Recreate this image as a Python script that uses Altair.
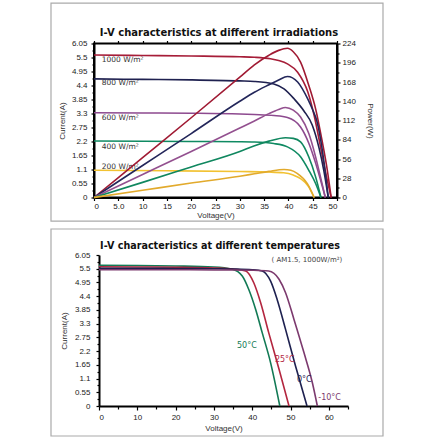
import altair as alt
import pandas as pd

# ---------------- top panel: I-V / P-V at different irradiations ----------------
irr_names = ["1000", "800", "600", "400", "200"]
irr_label_text = ["1000 W/m²", "800 W/m²", "600 W/m²", "400 W/m²", "200 W/m²"]
irr_label_v = [1.6, 1.6, 1.6, 1.6, 1.6]
irr_label_i = [5.41, 4.49, 3.14, 1.99, 1.2]

iv_1000_v = [0, 10, 20, 30, 33, 36.3, 38, 39.8, 41.9, 44, 45.3, 46.5, 47.7, 48.8]
iv_1000_i = [5.6, 5.58, 5.56, 5.53, 5.51, 5.45, 5.38, 5.25, 4.92, 4.14, 3.22, 2.1, 0.95, 0]
iv_800_v = [0, 10, 20, 30, 33, 37, 39.1, 41.2, 43.2, 44.9, 46.3, 47.3, 48.2]
iv_800_i = [4.66, 4.64, 4.62, 4.58, 4.56, 4.46, 4.27, 3.87, 3.4, 2.85, 1.95, 1.05, 0]
iv_600_v = [0, 10, 20, 30, 33, 37, 39.8, 42.5, 44.2, 45.6, 47, 47.6]
iv_600_i = [3.33, 3.32, 3.31, 3.28, 3.26, 3.22, 3.14, 2.77, 2.13, 1.35, 0.42, 0]
iv_400_v = [0, 10, 20, 30, 33, 37, 39.8, 42.5, 44.2, 45.6, 46.7]
iv_400_i = [2.22, 2.21, 2.2, 2.19, 2.18, 2.12, 1.99, 1.6, 1.07, 0.55, 0]
iv_200_v = [0, 15, 30, 36, 39, 41, 42.5, 44.2, 45.3]
iv_200_i = [1.07, 1.05, 1.02, 1.0, 0.97, 0.88, 0.74, 0.42, 0]

pw_1000_v = [0, 10, 20, 30, 33, 36, 38, 39.8, 41, 42.5, 44.2, 45.6, 47, 48, 48.8]
pw_1000_p = [0, 58, 116, 175, 193, 207, 214, 217, 212, 197, 163, 129, 80, 40, 0]
pw_800_v = [0, 10, 20, 30, 33, 36, 38, 39.8, 41.9, 44, 44.9, 45.9, 47, 48.2]
pw_800_p = [0, 46.5, 93, 140, 153, 164, 171, 176, 168, 143, 129, 110, 68, 0]
pw_600_v = [0, 10, 20, 30, 32.9, 36, 38, 39.4, 41, 42.5, 44.2, 45.6, 46.6, 47.6]
pw_600_p = [0, 33.5, 67, 101, 111, 122, 128, 131, 127, 117, 93, 59, 30, 0]
pw_400_v = [0, 10, 20, 30, 32.9, 36, 39.4, 41, 42.5, 44.2, 45.6, 46.7]
pw_400_p = [0, 22, 44.5, 67, 75, 82, 87, 86, 81, 59, 30, 0]
pw_200_v = [0, 10, 20, 30, 33, 36, 39.1, 40.5, 41.8, 43.9, 45.3]
pw_200_p = [0, 10.5, 21, 31, 34.5, 38, 40.7, 39.5, 35, 20, 0]

iv_colors = ["#a61d38", "#1f2150", "#8d4a8f", "#0f8a62", "#f2c232"]
pw_colors = ["#a01a33", "#23265a", "#93508f", "#10875f", "#e2aa2c"]

cur_ticks = [0, 0.55, 1.1, 1.65, 2.2, 2.75, 3.3, 3.85, 4.4, 4.95, 5.5, 6.05]
cur_minor = [0.275, 0.825, 1.375, 1.925, 2.475, 3.025, 3.575, 4.125, 4.675, 5.225, 5.775]
pow_ticks = [0, 28, 56, 84, 112, 140, 168, 196, 224]
pow_minor = [14, 42, 70, 98, 126, 154, 182, 210]
volt_ticks_top = [0, 5, 10, 15, 20, 25, 30, 35, 40, 45, 50]

# ---------------- bottom panel: temperatures ----------------
temp_names = ["50°C", "25°C", "0°C", "-10°C"]
temp_label_v = [38.6, 48.5, 53.6, 60.2]
temp_label_i = [2.4, 1.83, 1.04, 0.33]
temp_colors = ["#127a55", "#b3263f", "#1e2150", "#7c3a6e"]

t50_v = [0, 10, 20, 30, 34.8, 37.4, 39.1, 40.9, 42.6, 44.8, 47.2]
t50_i = [5.64, 5.63, 5.61, 5.57, 5.48, 5.21, 4.67, 3.87, 2.94, 1.73, 0]
t25_v = [0, 10, 20, 30, 35, 38.3, 40.4, 42.2, 44.3, 47, 49.6]
t25_i = [5.58, 5.57, 5.56, 5.53, 5.49, 5.41, 4.94, 4.14, 2.94, 1.47, 0]
t0_v = [0, 10, 20, 30, 35, 40, 42.6, 44.8, 46.5, 48.7, 51.3, 54.3]
t0_i = [5.52, 5.52, 5.51, 5.5, 5.49, 5.46, 5.41, 5.0, 4.27, 3.07, 1.6, 0]
tm10_v = [0, 10, 20, 30, 35, 40, 44.3, 47, 48.7, 50.9, 53.5, 55.7, 57]
tm10_i = [5.46, 5.46, 5.46, 5.45, 5.45, 5.44, 5.41, 5.08, 4.54, 3.47, 2.14, 0.93, 0]

volt_ticks_bot = [0, 5, 10, 15, 20, 25, 30, 35, 40, 45, 50, 55, 60, 65]

# ---------------- build tables ----------------
def frame(name, xs, ys, yname):
    return pd.DataFrame({"s": name, "v": xs, yname: ys})

df_iv = pd.concat([
    frame("1000", iv_1000_v, iv_1000_i, "i"),
    frame("800", iv_800_v, iv_800_i, "i"),
    frame("600", iv_600_v, iv_600_i, "i"),
    frame("400", iv_400_v, iv_400_i, "i"),
    frame("200", iv_200_v, iv_200_i, "i"),
])
df_pw = pd.concat([
    frame("1000", pw_1000_v, pw_1000_p, "p"),
    frame("800", pw_800_v, pw_800_p, "p"),
    frame("600", pw_600_v, pw_600_p, "p"),
    frame("400", pw_400_v, pw_400_p, "p"),
    frame("200", pw_200_v, pw_200_p, "p"),
])
df_irr_lab = pd.DataFrame({"t": irr_label_text, "v": irr_label_v, "i": irr_label_i})
df_t = pd.concat([
    frame("50°C", t50_v, t50_i, "i"),
    frame("25°C", t25_v, t25_i, "i"),
    frame("0°C", t0_v, t0_i, "i"),
    frame("-10°C", tm10_v, tm10_i, "i"),
])
df_t_lab = pd.DataFrame({"s": temp_names, "v": temp_label_v, "i": temp_label_i})
one = pd.DataFrame({"a": [0]})

FONT = "Liberation Sans"
TFONT = "DejaVu Sans"
GRAY = "#aaaaaa"

cur_expr = "round(datum.value*400) % 220 == 0"
cur_axis_kw = dict(
    values=sorted(cur_ticks + cur_minor), format=".2~f", labelOverlap=False, tickCount=100,
    labelExpr=f"{cur_expr} ? datum.label : ''",
    tickSize={"condition": {"test": cur_expr, "value": 3}, "value": 2},
)

# ---------- top ----------
xs_top = alt.Scale(domain=[0, 50], nice=False)
ys_cur = alt.Scale(domain=[0, 6.05], nice=False)
ys_pow = alt.Scale(domain=[0, 224], nice=False)

border_top = alt.Chart(one).mark_rect(fill="transparent", stroke=GRAY, strokeWidth=1.2).encode(
    x=alt.value(-43), x2=alt.value(289), y=alt.value(-40.3), y2=alt.value(177.7))
title_top = alt.Chart(one).mark_text(
    text="I-V characteristics at different irradiations", font=TFONT, fontSize=10,
    fontWeight="bold", color="#111", align="center", baseline="middle").encode(
    x=alt.value(125), y=alt.value(-10.3))
irr_text = alt.Chart(df_irr_lab).mark_text(
    font=TFONT, fontSize=7.5, color="#333", align="left", baseline="middle").encode(
    x=alt.X("v:Q", scale=xs_top), y=alt.Y("i:Q", scale=ys_cur), text="t:N")
iv_lines = alt.Chart(df_iv).mark_line(strokeWidth=1.6, interpolate="monotone").encode(
    x=alt.X("v:Q", scale=xs_top, title="Voltage(V)",
            axis=alt.Axis(values=volt_ticks_top, format=".0f",
                          labelExpr="datum.value == 5 ? '5.0' : datum.label",
                          tickSize=3, labelPadding=2, titlePadding=1, labelOverlap=False, tickCount=100)),
    y=alt.Y("i:Q", scale=ys_cur, title="Current(A)",
            axis=alt.Axis(orient="left", labelPadding=4, titlePadding=5, **cur_axis_kw)),
    color=alt.Color("s:N", scale=alt.Scale(domain=irr_names, range=iv_colors), legend=None),
    detail="s:N",
)
pw_expr = "round(datum.value) % 28 == 0"
pw_lines = alt.Chart(df_pw).mark_line(strokeWidth=1.6, interpolate="monotone").encode(
    x=alt.X("v:Q", scale=xs_top, title=None,
            axis=alt.Axis(orient="top", values=volt_ticks_top, labels=False, tickSize=3, domain=False,
                          tickCount=100)),
    y=alt.Y("p:Q", scale=ys_pow, title="Power(W)",
            axis=alt.Axis(orient="right", values=sorted(pow_ticks + pow_minor), tickCount=100,
                          format=".0f",
                          labelExpr=f"{pw_expr} ? datum.label : ''", labelOverlap=False,
                          tickSize={"condition": {"test": pw_expr, "value": 3}, "value": 2},
                          labelPadding=2, titlePadding=10)),
    color=alt.Color("s:N", scale=alt.Scale(domain=irr_names, range=pw_colors), legend=None),
    detail="s:N",
)
layerA = alt.layer(border_top, title_top, irr_text, iv_lines)
top = alt.layer(layerA, pw_lines).resolve_scale(
    x="independent", y="independent", color="independent").properties(
    width=243, height=154, view=alt.ViewBackground(stroke="black", strokeWidth=2))

# ---------- bottom ----------
xs_bot = alt.Scale(domain=[0, 65], range=[5, 254], nice=False)
ys_bot = alt.Scale(domain=[0, 6.05], nice=False)
tcolor = alt.Scale(domain=temp_names, range=temp_colors)

border_bot = alt.Chart(one).mark_rect(fill="transparent", stroke=GRAY, strokeWidth=1.2).encode(
    x=alt.value(-43), x2=alt.value(289), y=alt.value(-26), y2=alt.value(181))
title_bot = alt.Chart(one).mark_text(
    text="I-V characteristics at different temperatures", font=TFONT, fontSize=9.6,
    fontWeight="bold", color="#111", align="center", baseline="middle").encode(
    x=alt.value(126), y=alt.value(-9))
sub_bot = alt.Chart(pd.DataFrame({"t": ["( AM1.5,  1000W/m²)"], "v": [63.5], "i": [5.84]})).mark_text(
    font=TFONT, fontSize=7, color="#444", align="right", baseline="middle").encode(
    x=alt.X("v:Q", scale=xs_bot), y=alt.Y("i:Q", scale=ys_bot), text="t:N")
bx_expr = "datum.value % 10 == 0 && datum.value <= 60"
t_lines = alt.Chart(df_t).mark_line(strokeWidth=1.6, interpolate="monotone").encode(
    x=alt.X("v:Q", scale=xs_bot, title="Voltage(V)",
            axis=alt.Axis(values=volt_ticks_bot, format=".0f",
                          labelExpr=f"{bx_expr} ? datum.label : ''",
                          labelOverlap=False, tickCount=100,
                          tickSize={"condition": {"test": "datum.value % 10 == 0", "value": 4}, "value": 3},
                          labelPadding=3, titlePadding=3)),
    y=alt.Y("i:Q", scale=ys_bot, title="Current(A)",
            axis=alt.Axis(labelPadding=6, titlePadding=6, offset=-5, **cur_axis_kw)),
    color=alt.Color("s:N", scale=tcolor, legend=None),
    detail="s:N",
)
t_text = alt.Chart(df_t_lab).mark_text(font=TFONT, fontSize=8, align="center", baseline="middle").encode(
    x=alt.X("v:Q", scale=xs_bot), y=alt.Y("i:Q", scale=ys_bot), text="s:N",
    color=alt.Color("s:N", scale=tcolor, legend=None))
bottom = alt.layer(border_bot, title_bot, sub_bot, t_lines, t_text).properties(width=254, height=151)

chart = alt.concat(top, bottom, columns=1, spacing=3.5).properties(
    padding={"left": 49, "top": 1.5, "right": 5, "bottom": 5}, background="white"
).configure_view(stroke="transparent").configure_axis(
    labelFont=FONT, labelFontSize=8, labelColor="#222", titleFont=FONT, titleFontSize=8,
    titleFontWeight="normal", titleColor="#333", domainColor="black", domainWidth=2,
    tickColor="black", tickWidth=1.2, grid=False, zindex=1, labelOverlap=False,
)

chart.save("out.html", embed_options={"renderer": "svg", "actions": False})
